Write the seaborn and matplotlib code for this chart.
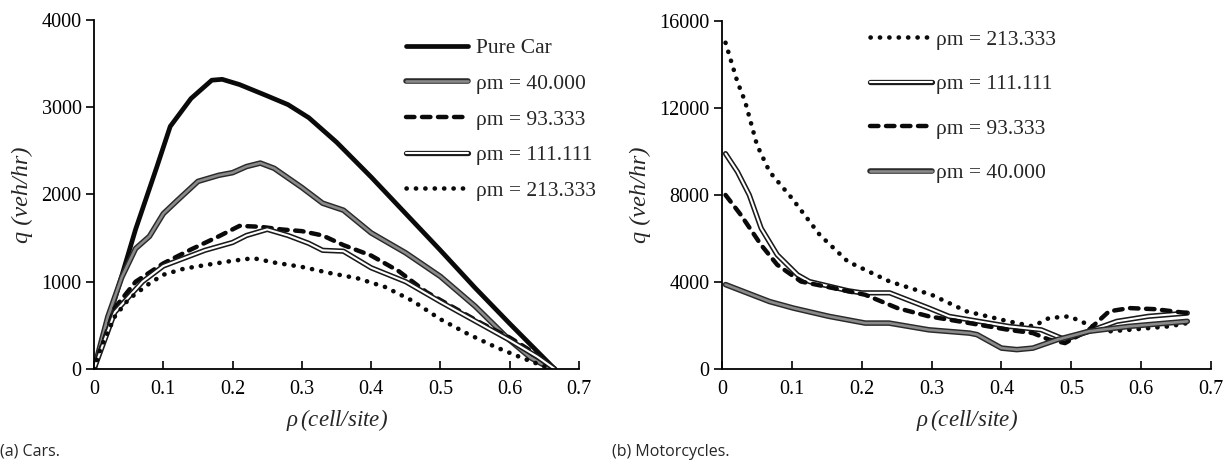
import matplotlib
matplotlib.use("Agg")
import matplotlib.pyplot as plt
import matplotlib.patheffects as pe
import seaborn as sns
import pandas as pd

# ---------------- data: (a) Cars ----------------
car_pure_x = [0, 0.03, 0.06, 0.09, 0.11, 0.14, 0.17, 0.185, 0.21, 0.25, 0.28, 0.31, 0.35, 0.40, 0.45, 0.50, 0.55, 0.60, 0.64, 0.665]
car_pure_y = [0, 800, 1600, 2300, 2780, 3100, 3310, 3320, 3260, 3130, 3030, 2880, 2600, 2200, 1780, 1360, 930, 520, 200, 0]

car_40_x = [0, 0.02, 0.04, 0.06, 0.08, 0.10, 0.12, 0.15, 0.18, 0.20, 0.22, 0.24, 0.26, 0.30, 0.33, 0.36, 0.40, 0.45, 0.50, 0.55, 0.60, 0.63, 0.66]
car_40_y = [0, 600, 1050, 1380, 1520, 1780, 1930, 2150, 2220, 2250, 2320, 2360, 2300, 2080, 1900, 1820, 1560, 1330, 1060, 720, 330, 130, 0]

car_93_x = [0, 0.03, 0.06, 0.10, 0.14, 0.18, 0.21, 0.24, 0.27, 0.30, 0.33, 0.36, 0.40, 0.44, 0.48, 0.52, 0.56, 0.60, 0.64, 0.665]
car_93_y = [0, 700, 1000, 1210, 1370, 1520, 1640, 1630, 1600, 1580, 1530, 1420, 1300, 1120, 880, 700, 520, 360, 160, 0]

car_111_x = [0, 0.03, 0.07, 0.10, 0.13, 0.16, 0.20, 0.22, 0.25, 0.28, 0.31, 0.33, 0.36, 0.40, 0.45, 0.50, 0.55, 0.60, 0.64, 0.665]
car_111_y = [0, 650, 1000, 1180, 1270, 1360, 1450, 1530, 1600, 1530, 1440, 1360, 1350, 1160, 1000, 770, 550, 330, 140, 0]

car_213_x = [0, 0.01, 0.03, 0.05, 0.08, 0.10, 0.13, 0.16, 0.20, 0.23, 0.26, 0.30, 0.34, 0.38, 0.42, 0.46, 0.50, 0.54, 0.58, 0.62, 0.65, 0.66]
car_213_y = [0, 250, 600, 800, 980, 1080, 1150, 1190, 1240, 1270, 1220, 1170, 1100, 1040, 940, 780, 570, 400, 250, 120, 30, 0]

# ---------------- data: (b) Motorcycles ----------------
mc_213_x = [0.005, 0.022, 0.033, 0.05, 0.068, 0.10, 0.14, 0.18, 0.24, 0.30, 0.35, 0.41, 0.445, 0.468, 0.497, 0.525, 0.554, 0.583, 0.64, 0.666]
mc_213_y = [15000, 13200, 12300, 10300, 9070, 7850, 6160, 4940, 4020, 3410, 2650, 2190, 1960, 2340, 2420, 2030, 1730, 1800, 1960, 2110]

mc_111_x = [0.005, 0.022, 0.039, 0.056, 0.079, 0.108, 0.125, 0.18, 0.20, 0.24, 0.296, 0.325, 0.41, 0.457, 0.491, 0.525, 0.565, 0.61, 0.666]
mc_111_y = [9900, 9070, 8000, 6470, 5250, 4330, 4020, 3600, 3500, 3500, 2800, 2420, 1960, 1800, 1350, 1730, 2190, 2420, 2570]

mc_93_x = [0.005, 0.027, 0.056, 0.079, 0.113, 0.159, 0.205, 0.251, 0.296, 0.354, 0.41, 0.445, 0.468, 0.491, 0.525, 0.554, 0.583, 0.62, 0.666]
mc_93_y = [8000, 7080, 5700, 4790, 4020, 3720, 3410, 2800, 2420, 2110, 1800, 1650, 1350, 1190, 1800, 2650, 2800, 2750, 2570]

mc_40_x = [0.005, 0.068, 0.102, 0.153, 0.205, 0.239, 0.296, 0.354, 0.365, 0.40, 0.422, 0.445, 0.48, 0.525, 0.583, 0.666]
mc_40_y = [3880, 3100, 2800, 2420, 2110, 2110, 1800, 1650, 1580, 960, 890, 960, 1350, 1730, 1960, 2190]

left_labels = ["Pure Car", "ρm = 40.000", "ρm = 93.333", "ρm = 111.111", "ρm = 213.333"]
right_labels = ["ρm = 213.333", "ρm = 111.111", "ρm = 93.333", "ρm = 40.000"]
x_ticks = [0, 0.1, 0.2, 0.3, 0.4, 0.5, 0.6, 0.7]
x_tick_labels = ["0", "0.1", "0.2", "0.3", "0.4", "0.5", "0.6", "0.7"]
left_y_ticks = [0, 1000, 2000, 3000, 4000]
right_y_ticks = [0, 4000, 8000, 12000, 16000]

# ---------------- style ----------------
sns.set_theme(style="ticks")
plt.rcParams["font.family"] = "serif"
plt.rcParams["font.serif"] = ["Liberation Serif", "DejaVu Serif"]
plt.rcParams["mathtext.fontset"] = "custom"
plt.rcParams["mathtext.rm"] = "Liberation Serif"
plt.rcParams["mathtext.it"] = "Liberation Serif:italic"

SERIF = ["Liberation Serif", "DejaVu Serif"]

fig = plt.figure(figsize=(12.29, 4.65), dpi=100)
axL = fig.add_axes([0.0765, 0.2065, 0.3946, 0.7505])
axR = fig.add_axes([0.5875, 0.2065, 0.3979, 0.7484])

black = "#0a0a0a"
styles = {
    "pure": dict(color=black, linewidth=3.4, solid_capstyle="round"),
    "40": dict(color="#8a8a8a", linewidth=1.9,
               path_effects=[pe.Stroke(linewidth=4.0, foreground="#2a2a2a"), pe.Normal()]),
    "93": dict(color=black, linewidth=3.2, linestyle=(0, (1.9, 1.7)), dash_capstyle="round"),
    "111": dict(color="white", linewidth=1.5,
                path_effects=[pe.Stroke(linewidth=3.8, foreground="#1a1a1a"), pe.Normal()]),
    "213": dict(color=black, linewidth=3.3, linestyle=(0, (0.05, 2.0)), dash_capstyle="round"),
}

def draw(ax, xs, ys, label, key):
    df = pd.DataFrame({"rho": xs, "q": ys})
    sns.lineplot(data=df, x="rho", y="q", ax=ax, label=label, estimator=None,
                 sort=False, **styles[key])

draw(axL, car_pure_x, car_pure_y, left_labels[0], "pure")
draw(axL, car_40_x, car_40_y, left_labels[1], "40")
draw(axL, car_93_x, car_93_y, left_labels[2], "93")
draw(axL, car_111_x, car_111_y, left_labels[3], "111")
draw(axL, car_213_x, car_213_y, left_labels[4], "213")

draw(axR, mc_213_x, mc_213_y, right_labels[0], "213")
draw(axR, mc_111_x, mc_111_y, right_labels[1], "111")
draw(axR, mc_93_x, mc_93_y, right_labels[2], "93")
draw(axR, mc_40_x, mc_40_y, right_labels[3], "40")

for ax, yt, ymax in [(axL, left_y_ticks, 4000), (axR, right_y_ticks, 16000)]:
    ax.set_xlim(0, 0.7)
    ax.set_ylim(0, ymax)
    ax.set_xticks(x_ticks)
    ax.set_xticklabels(x_tick_labels, family=SERIF, fontsize=14.5)
    ax.set_yticks(yt)
    ax.set_yticklabels([str(v) for v in yt], family=SERIF, fontsize=14.5)
    sns.despine(ax=ax)
    for s in ["left", "bottom"]:
        ax.spines[s].set_linewidth(1.3)
        ax.spines[s].set_color("black")
    ax.tick_params(axis="x", direction="in", length=6, width=1.2, pad=8, colors="black")
    ax.tick_params(axis="y", direction="out", length=6, width=1.2, pad=3, colors="black")
    ax.set_xlabel(r"$\rho\,$(cell/site)", fontsize=16.5, family=SERIF, fontstyle="italic", labelpad=6)
    ax.set_ylabel("q (veh/hr)", fontsize=17.5, family=SERIF, fontstyle="italic", labelpad=6)

legL = axL.legend(loc="upper right", bbox_to_anchor=(1.075, 1.003), frameon=False,
                  prop=dict(family=SERIF, size=15.5),
                  handlelength=2.9, labelspacing=0.72, handletextpad=0.35)
legR = axR.legend(loc="upper left", bbox_to_anchor=(0.262, 1.03), frameon=False,
                  prop=dict(family=SERIF, size=15.5),
                  handlelength=2.9, labelspacing=1.13, handletextpad=0.2)

fig.text(0.0, 0.028, "(a) Cars.", fontsize=11.5, family=["Open Sans", "DejaVu Sans"], ha="left", va="center")
fig.text(0.498, 0.028, "(b) Motorcycles.", fontsize=11.5, family=["Open Sans", "DejaVu Sans"], ha="left", va="center")

fig.savefig("out.png", dpi=100)
